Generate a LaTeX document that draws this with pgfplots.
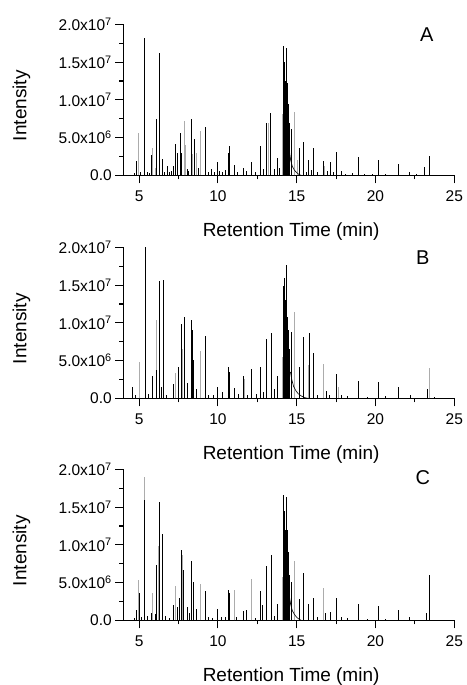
\documentclass[border=0pt]{standalone}
\usepackage{fontspec}
\setmainfont{Liberation Sans}
\usepackage{pgfplots}
\pgfplotsset{compat=1.18}
\pgfplotsset{
  chrom/.style={
    scale only axis, width=331pt, height=150.8pt,
    xmin=4, xmax=25, ymin=0, ymax=20,
    axis lines=left,
    axis line style={-, line width=1.1pt},
    x axis line style={shorten <=-8pt},
    xtick={5,10,15,20,25}, minor x tick num=1,
    ytick={0,5,10,15,20}, minor y tick num=1,
    yticklabels={0.0, 5.0x10\textsuperscript{6}, 1.0x10\textsuperscript{7}, 1.5x10\textsuperscript{7}, 2.0x10\textsuperscript{7}},
    scaled y ticks=false,
    tick align=outside, major tick length=8pt, minor tick length=4pt,
    every tick/.style={black, line width=1.1pt},
    /pgf/number format/assume math mode=true,
    tick label style={font=\fontsize{15.5}{18}\selectfont},
    xticklabel style={yshift=-4pt},
    label style={font=\fontsize{19}{22}\selectfont},
    xlabel={Retention Time (min)},
    ylabel={Intensity},
    xlabel style={at={(axis description cs:0.507,-0.375)}, anchor=center},
    ylabel style={at={(axis description cs:-0.308,0.462)}, anchor=center},
  },
  blk/.style={ycomb, black, line width=0.6pt, mark=none},
  gry/.style={ycomb, gray!65, line width=0.7pt, mark=none},
  tail/.style={black, line width=0.6pt, mark=none},
}
\begin{document}
\begin{tikzpicture}
\path[use as bounding box] (0,0) rectangle (466pt,685pt);
% ---------------- A ----------------
\begin{axis}[chrom, at={(123.3pt,509.7pt)}, anchor=south west]
\addplot[gry] table {
x y
4.98 5.6
5.85 3.6
6.02 1.0
7.88 7.2
7.95 4.0
8.36 2.8
8.62 3.0
8.92 5.9
13.20 7.0
14.07 8.1
14.83 8.4
15.05 2.0
16.75 1.2
};
\addplot[blk] table {
x y
4.70 0.3
4.85 1.9
5.10 0.4
5.32 18.2
5.55 0.5
5.65 0.3
5.79 2.7
6.12 7.4
6.29 16.2
6.48 2.1
6.60 0.5
6.78 1.2
6.95 0.4
7.05 0.6
7.20 1.2
7.33 4.2
7.44 2.9
7.60 5.6
7.70 3.0
8.05 0.8
8.15 0.6
8.30 7.4
8.53 4.8
8.75 1.0
9.19 6.4
9.40 0.5
9.59 0.9
9.75 0.4
9.95 1.7
10.10 0.6
10.30 0.5
10.50 0.7
10.65 2.9
10.74 3.9
11.03 1.3
11.25 0.5
11.60 1.0
11.80 0.6
12.13 1.8
12.40 0.5
12.68 3.9
12.90 0.8
13.08 6.9
13.34 8.3
13.55 0.9
13.76 2.3
13.90 1.0
14.18 17.2
14.23 15.0
14.28 12.5
14.33 14.0
14.37 16.9
14.41 12.2
14.46 9.5
14.51 7.0
14.56 6.2
14.68 6.2
15.17 3.6
15.42 4.4
15.60 0.5
15.74 2.0
15.90 0.7
16.05 3.6
16.30 0.4
16.69 1.9
16.95 0.6
17.16 1.7
17.30 0.5
17.54 3.1
17.80 0.6
18.10 0.2
18.50 0.3
18.91 2.4
19.30 0.2
19.80 0.2
20.16 2.0
20.60 0.2
21.47 1.5
22.14 0.4
22.60 0.2
23.12 1.1
23.41 2.6
};
\addplot[tail] table {
x y
14.55 3.0
14.62 2.0
14.72 1.2
14.85 0.7
15.00 0.35
15.15 0.1
15.30 0
};
\node[font=\fontsize{20}{24}\selectfont] at (rel axis cs:0.917,0.93) {A};
\end{axis}
% ---------------- B ----------------
\begin{axis}[chrom, at={(123.3pt,286.7pt)}, anchor=south west]
\addplot[gry] table {
x y
5.00 4.8
6.12 10.4
7.33 3.4
7.75 6.6
8.92 6.3
11.65 2.5
14.10 5.5
14.83 11.5
15.75 4.4
16.69 4.6
17.63 1.5
23.43 4.0
};
\addplot[blk] table {
x y
4.60 1.5
4.75 0.4
5.41 20.0
5.60 0.6
5.85 2.9
6.12 3.7
6.29 15.6
6.40 1.5
6.52 15.7
6.70 0.4
7.20 1.9
7.52 4.2
7.65 9.9
7.88 10.8
8.05 2.0
8.32 10.4
8.37 9.0
8.45 5.1
8.60 1.2
9.19 8.2
9.40 0.5
9.70 0.4
9.97 1.5
10.30 0.8
10.65 4.1
10.72 3.5
11.05 1.4
11.30 0.6
11.60 2.9
11.85 0.5
12.13 3.9
12.45 0.6
12.70 4.2
12.90 0.8
13.08 7.8
13.36 8.7
13.55 1.2
13.78 3.0
14.18 14.9
14.23 16.0
14.28 13.0
14.33 15.5
14.37 17.7
14.41 10.8
14.46 9.0
14.52 6.5
14.64 8.8
15.16 4.2
15.42 8.1
15.80 8.6
16.05 6.0
16.30 0.5
16.85 1.0
17.10 0.4
17.54 3.2
17.80 0.5
18.20 0.3
18.91 2.3
19.50 0.2
20.16 2.1
20.60 0.3
21.47 1.5
22.20 0.4
23.30 1.2
23.70 0.2
};
\addplot[tail] table {
x y
14.60 3.5
14.70 2.4
14.80 1.6
14.95 1.0
15.10 0.6
15.30 0.3
15.50 0.1
15.70 0
};
\node[font=\fontsize{20}{24}\selectfont] at (rel axis cs:0.905,0.93) {B};
\end{axis}
% ---------------- C ----------------
\begin{axis}[chrom, at={(123.3pt,64.7pt)}, anchor=south west]
\addplot[gry] table {
x y
4.98 5.3
5.36 19.0
5.85 3.6
6.20 9.9
7.33 4.6
7.72 8.7
8.92 4.8
11.03 4.0
12.13 5.5
14.07 5.7
14.83 7.9
16.69 4.3
};
\addplot[blk] table {
x y
4.70 0.3
4.85 1.4
5.01 3.6
5.15 0.5
5.32 16.0
5.55 0.6
5.79 1.0
6.00 0.8
6.12 7.3
6.29 15.7
6.50 11.5
6.65 0.6
6.90 0.3
7.20 2.0
7.45 1.7
7.55 3.0
7.65 9.3
7.80 6.7
8.05 1.7
8.20 1.0
8.32 7.9
8.45 5.1
8.60 1.5
9.19 3.9
9.40 0.5
9.65 0.3
9.95 1.5
10.20 0.5
10.45 0.4
10.69 4.0
10.74 3.6
11.20 0.5
11.60 1.2
11.80 1.3
12.40 0.3
12.68 3.9
12.80 2.0
13.08 7.2
13.36 8.7
13.55 0.6
13.78 2.2
14.18 16.6
14.23 14.5
14.28 12.0
14.35 16.4
14.41 12.0
14.46 9.0
14.52 6.0
14.68 5.1
15.16 2.8
15.42 6.3
15.74 2.2
16.05 3.0
16.30 0.4
16.80 1.0
17.16 1.1
17.54 3.0
17.80 0.5
18.20 0.3
18.91 2.2
19.50 0.2
20.16 1.9
20.60 0.2
21.47 1.4
22.15 0.4
23.25 1.0
23.43 6.0
};
\addplot[tail] table {
x y
14.55 3.0
14.62 2.1
14.72 1.3
14.85 0.8
15.00 0.4
15.15 0.15
15.30 0
};
\node[font=\fontsize{20}{24}\selectfont] at (rel axis cs:0.905,0.944) {C};
\end{axis}
\end{tikzpicture}
\end{document}
